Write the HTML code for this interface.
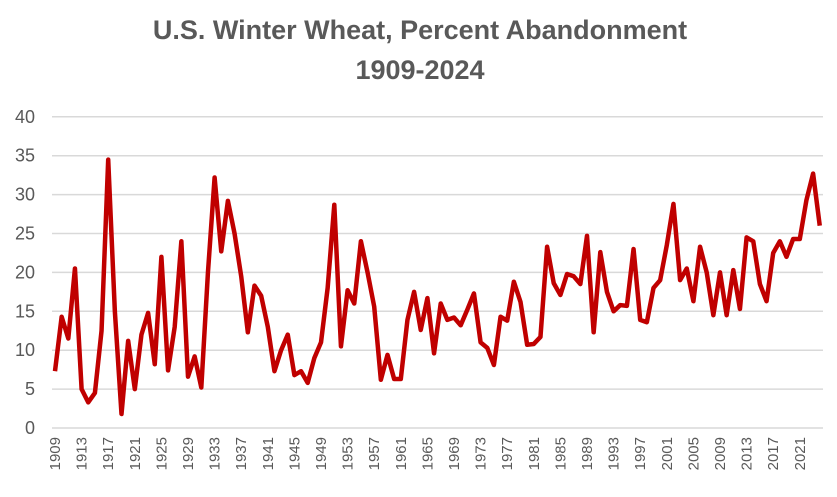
<!DOCTYPE html>
<html><head><meta charset="utf-8"><style>
body{margin:0;background:#fff;}
svg text{font-family:"Liberation Sans",sans-serif;}
</style></head><body>
<svg id="chart" width="837" height="492" xmlns="http://www.w3.org/2000/svg">
<text x="420" y="39" text-anchor="middle" font-size="27" font-weight="bold" fill="#595959">U.S. Winter Wheat, Percent Abandonment</text>
<text x="420" y="79" text-anchor="middle" font-size="27" font-weight="bold" fill="#595959">1909-2024</text>
<g id="grid"></g><g id="yt"></g><g id="xt"></g><g id="series"></g>
</svg>
<script>
const startYear = 1909;
const values = [7.3,14.3,11.5,20.5,5,3.3,4.5,12.5,34.5,15,1.8,11.2,5,12,14.8,8.2,22,7.4,13,24,6.6,9.2,5.2,20,32.2,22.7,29.2,25,19.5,12.3,18.3,17,13,7.3,10,12,6.8,7.3,5.8,9,11,18,28.7,10.5,17.7,16,24,20,15.6,6.2,9.4,6.3,6.3,13.9,17.5,12.6,16.7,9.6,16,13.9,14.2,13.2,15.2,17.3,11,10.3,8.1,14.3,13.8,18.8,16.2,10.7,10.8,11.7,23.3,18.6,17.1,19.8,19.5,18.5,24.7,12.3,22.6,17.5,15,15.8,15.7,23,13.9,13.6,18,19,23.5,28.8,19,20.5,16.3,23.3,20,14.5,20,14.5,20.3,15.3,24.5,24,18.5,16.3,22.5,24,22,24.3,24.3,29.3,32.7,26];
const yTicks = [0,5,10,15,20,25,30,35,40];
const NS="http://www.w3.org/2000/svg";
const x0=55, dx=6.65, yBase=428, yPer=7.78;
const xs=i=>x0+i*dx, ys=v=>yBase-v*yPer;
const grid=document.getElementById('grid'), yt=document.getElementById('yt'), xt=document.getElementById('xt'), ser=document.getElementById('series');
yTicks.forEach(t=>{
  const l=document.createElementNS(NS,'line');
  
  
  l.setAttribute('x1',52);l.setAttribute('x2',823);l.setAttribute('y1',ys(t));l.setAttribute('y2',ys(t));
  l.setAttribute('stroke','#d9d9d9');l.setAttribute('stroke-width','1.5');
  grid.appendChild(l);
  const tx=document.createElementNS(NS,'text');
  
  
  tx.setAttribute('x',35);tx.setAttribute('y',ys(t)+6);tx.setAttribute('text-anchor','end');
  tx.setAttribute('font-size','18');tx.setAttribute('fill','#595959');tx.textContent=t;
  yt.appendChild(tx);
});
values.forEach((v,i)=>{
  if(i%4!==0)return;
  const tx=document.createElementNS(NS,'text');
  
  
  const x=xs(i)+5;
  tx.setAttribute('transform','translate('+x+',437) rotate(-90)');
  tx.setAttribute('text-anchor','end');tx.setAttribute('font-size','15');tx.setAttribute('fill','#595959');
  tx.textContent=startYear+i;
  xt.appendChild(tx);
});
const p=document.createElementNS(NS,'polyline');


p.setAttribute('points',values.map((v,i)=>xs(i)+','+ys(v)).join(' '));
p.setAttribute('fill','none');p.setAttribute('stroke','#c00000');p.setAttribute('stroke-width','4.5');p.setAttribute('stroke-linejoin','round');
ser.appendChild(p);
</script>
</body></html>
